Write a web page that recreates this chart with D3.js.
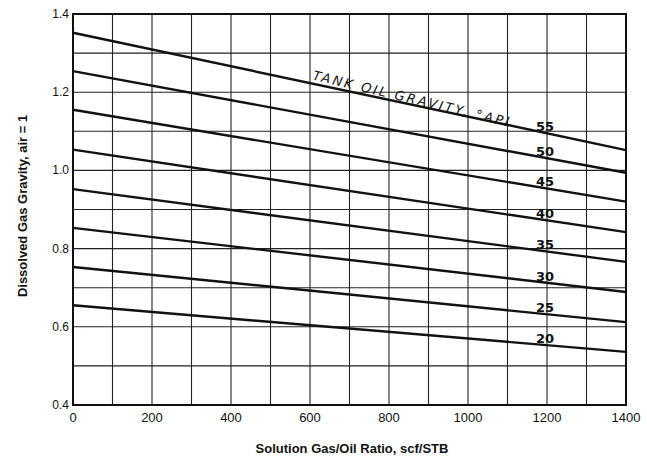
<!DOCTYPE html>
<html>
<head>
<meta charset="utf-8">
<script src="https://cdn.jsdelivr.net/npm/d3@7"></script>
<style>
  html, body { margin: 0; padding: 0; background: #fff; }
  svg { display: block; }
</style>
</head>
<body>
<svg id="chart" width="647" height="461"></svg>
<script>
// Tank oil gravity curves (°API) and dissolved gas gravity at the ends of the range
const apiGravity = [55, 50, 45, 40, 35, 30, 25, 20];
const ratioPoints = [0, 1400];
const gravityAtZero = [1.352, 1.254, 1.155, 1.053, 0.952, 0.853, 0.753, 0.655];
const gravityAt1400 = [1.052, 0.994, 0.920, 0.842, 0.766, 0.689, 0.612, 0.536];
const labelRatio = 1195;

const xTicks = [0, 200, 400, 600, 800, 1000, 1200, 1400];
const yTicks = [0.4, 0.6, 0.8, 1.0, 1.2, 1.4];
const xGrid = d3.range(0, 1401, 100);
const yGrid = [0.4, 0.5, 0.6, 0.7, 0.8, 0.9, 1.0, 1.1, 1.2, 1.3, 1.4];

const svg = d3.select("#chart");
const m = { left: 73, right: 626, top: 14, bottom: 405 };

const x = d3.scaleLinear().domain([0, 1400]).range([m.left, m.right]);
const y = d3.scaleLinear().domain([0.4, 1.4]).range([m.bottom, m.top]);

const ink = "#111";
const g = svg.append("g");

// grid
g.selectAll("line.vg").data(xGrid).enter().append("line")
  .attr("x1", d => x(d)).attr("x2", d => x(d))
  .attr("y1", m.top).attr("y2", m.bottom)
  .attr("stroke", "#222").attr("stroke-width", 1.1);
g.selectAll("line.hg").data(yGrid).enter().append("line")
  .attr("x1", m.left).attr("x2", m.right)
  .attr("y1", d => y(d)).attr("y2", d => y(d))
  .attr("stroke", "#222").attr("stroke-width", 1.1);

// frame
g.append("rect")
  .attr("x", m.left).attr("y", m.top)
  .attr("width", m.right - m.left).attr("height", m.bottom - m.top)
  .attr("fill", "none").attr("stroke", ink).attr("stroke-width", 2);

// curves
const line = d3.line().x(d => x(d[0])).y(d => y(d[1]));
apiGravity.forEach((api, i) => {
  const pts = ratioPoints.map((r, j) => [r, j === 0 ? gravityAtZero[i] : gravityAt1400[i]]);
  g.append("path").datum(pts)
    .attr("d", line)
    .attr("fill", "none").attr("stroke", ink).attr("stroke-width", 2.4);
});

// curve labels
const handFont = "'DejaVu Sans', sans-serif";
apiGravity.forEach((api, i) => {
  const v = gravityAtZero[i] + (gravityAt1400[i] - gravityAtZero[i]) * labelRatio / 1400;
  g.append("text")
    .attr("x", x(labelRatio)).attr("y", y(v) - 2)
    .attr("text-anchor", "middle")
    .attr("font-family", handFont).attr("font-size", 13).attr("font-weight", "bold")
    .attr("fill", ink)
    .text(api);
});

// curve family title along the 55 curve
{
  const r0 = 605;
  const v0 = gravityAtZero[0] + (gravityAt1400[0] - gravityAtZero[0]) * r0 / 1400;
  const dx = x(1400) - x(0);
  const dy = y(gravityAt1400[0]) - y(gravityAtZero[0]);
  const ang = Math.atan2(dy, dx) * 180 / Math.PI + 1.5;
  g.append("text")
    .attr("transform", `translate(${x(r0)},${y(v0) - 4}) rotate(${ang})`)
    .attr("font-family", handFont).attr("font-size", 13).attr("font-style", "italic")
    .attr("letter-spacing", 2.3)
    .attr("fill", ink)
    .text("TANK OIL GRAVITY, °API");
}

// tick labels
g.selectAll("text.xt").data(xTicks).enter().append("text")
  .attr("x", d => x(d)).attr("y", m.bottom + 17)
  .attr("text-anchor", "middle")
  .attr("font-family", "'Liberation Sans', Arial, sans-serif").attr("font-size", 13)
  .attr("fill", ink)
  .text(d => d);
g.selectAll("text.yt").data(yTicks).enter().append("text")
  .attr("x", m.left - 4).attr("y", d => y(d) + 4)
  .attr("text-anchor", "end")
  .attr("font-family", "'Liberation Sans', Arial, sans-serif").attr("font-size", 12)
  .attr("fill", ink)
  .text(d => d.toFixed(1));

// axis titles
svg.append("text")
  .attr("x", 352).attr("y", 453)
  .attr("text-anchor", "middle")
  .attr("font-family", "'Liberation Sans', Arial, sans-serif").attr("font-size", 13).attr("font-weight", "bold")
  .attr("fill", ink)
  .text("Solution Gas/Oil Ratio, scf/STB");
svg.append("text")
  .attr("transform", "translate(27,206) rotate(-90)")
  .attr("text-anchor", "middle")
  .attr("font-family", "'Liberation Sans', Arial, sans-serif").attr("font-size", 13).attr("font-weight", "bold")
  .attr("fill", ink)
  .text("Dissolved Gas Gravity, air = 1");
</script>
</body>
</html>
